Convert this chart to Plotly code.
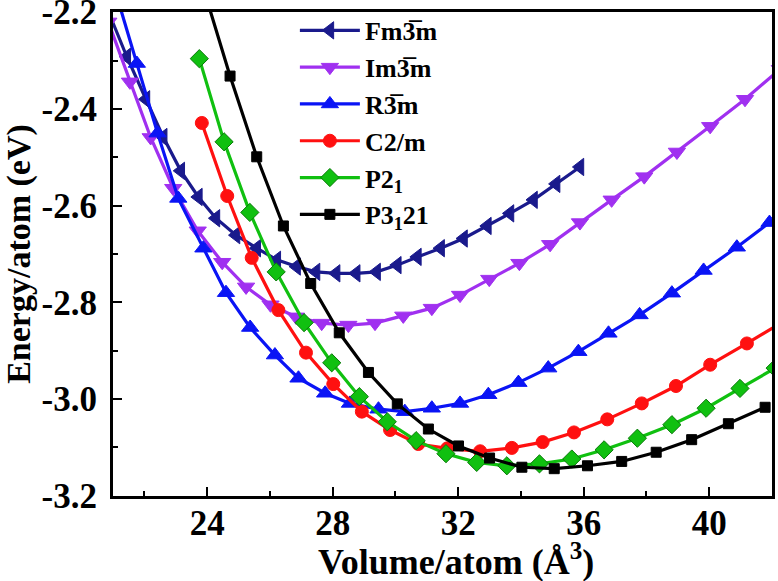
import plotly.graph_objects as go

# ---- data ----
fm_x = [20.83, 21.44, 22.05, 22.60, 23.16, 23.72, 24.28, 24.92, 25.58, 26.22, 26.85, 27.47, 28.11,
        28.75, 29.40, 30.06, 30.70, 31.44, 32.17, 32.93, 33.65, 34.40, 35.12, 35.88]
fm_y = [-2.195, -2.292, -2.380, -2.458, -2.528, -2.582, -2.626, -2.661, -2.688, -2.712, -2.726, -2.737, -2.740,
        -2.740, -2.737, -2.723, -2.706, -2.688, -2.668, -2.642, -2.616, -2.588, -2.555, -2.520]

im_x = [20.85, 21.54, 22.20, 22.92, 23.70, 24.48, 25.24, 26.02, 26.83, 27.65, 28.50, 29.35, 30.25,
        31.16, 32.06, 32.99, 33.95, 34.93, 35.88, 36.89, 37.93, 38.97, 40.03, 41.14, 42.25]
im_y = [-2.220, -2.344, -2.459, -2.564, -2.652, -2.717, -2.768, -2.805, -2.830, -2.843, -2.847, -2.843, -2.828,
        -2.812, -2.785, -2.752, -2.719, -2.680, -2.635, -2.588, -2.540, -2.489, -2.436, -2.380, -2.318]

r3_x = [21.10, 21.76, 22.42, 23.08, 23.88, 24.60, 25.37, 26.16, 26.91, 27.76, 28.55, 29.46, 30.30,
        31.16, 32.06, 32.96, 33.92, 34.87, 35.83, 36.79, 37.78, 38.81, 39.82, 40.88, 41.92]
r3_y = [-2.162, -2.306, -2.450, -2.585, -2.688, -2.780, -2.852, -2.909, -2.957, -2.988, -3.009, -3.021, -3.026,
        -3.019, -3.009, -2.991, -2.966, -2.936, -2.902, -2.864, -2.826, -2.781, -2.734, -2.686, -2.635]

c2_x = [23.83, 24.64, 25.42, 26.27, 27.15, 28.02, 28.93, 29.83, 30.73, 31.65, 32.70, 33.71, 34.69,
        35.69, 36.75, 37.85, 38.94, 40.03, 41.20, 42.35]
c2_y = [-2.429, -2.580, -2.708, -2.816, -2.904, -2.969, -3.026, -3.064, -3.093, -3.102, -3.108, -3.101, -3.089,
        -3.069, -3.042, -3.009, -2.973, -2.929, -2.885, -2.840]

p2_x = [23.75, 24.54, 25.36, 26.20, 27.09, 27.97, 28.85, 29.74, 30.66, 31.61, 32.59, 33.55, 34.59,
        35.62, 36.65, 37.71, 38.81, 39.90, 40.98, 42.10]
p2_y = [-2.296, -2.468, -2.614, -2.737, -2.842, -2.925, -2.995, -3.047, -3.086, -3.113, -3.131, -3.138, -3.134,
        -3.124, -3.105, -3.081, -3.053, -3.019, -2.978, -2.936]

p3_x = [23.88, 24.73, 25.58, 26.43, 27.30, 28.21, 29.14, 30.06, 31.05, 32.01, 33.00, 34.03, 35.06,
        36.12, 37.21, 38.31, 39.44, 40.61, 41.78]
p3_y = [-2.150, -2.332, -2.499, -2.642, -2.761, -2.863, -2.945, -3.010, -3.062, -3.097, -3.122, -3.141, -3.144,
        -3.138, -3.129, -3.110, -3.084, -3.051, -3.017]

names = ["Fm3\u0305m", "Im3\u0305m", "R3\u0305m", "C2/m", "P2<sub>1</sub>", "P3<sub>1</sub>21"]

x_ticks = [24, 28, 32, 36, 40]
x_tick_text = ["24", "28", "32", "36", "40"]
y_ticks = [-3.2, -3.0, -2.8, -2.6, -2.4, -2.2]
y_tick_text = ["-3.2", "-3.0", "-2.8", "-2.6", "-2.4", "-2.2"]
x_title = "Volume/atom (Å<sup>3</sup>)"
y_title = "Energy/atom (eV)"

series = [
    (fm_x, fm_y, names[0], "#1a1a8c", "triangle-left", 15, "#1a1a8c"),
    (im_x, im_y, names[1], "#a030f0", "triangle-down", 15, "#a030f0"),
    (r3_x, r3_y, names[2], "#0a14f5", "triangle-up", 15, "#0a14f5"),
    (c2_x, c2_y, names[3], "#ff1010", "circle", 13, "#ff1010"),
    (p2_x, p2_y, names[4], "#10c010", "diamond", 14, "#0a7a0a"),
    (p3_x, p3_y, names[5], "#000000", "square", 10, "#000000"),
]

fig = go.Figure()
for xs, ys, nm, col, sym, sz, lc in series:
    fig.add_trace(go.Scatter(
        x=xs, y=ys, name=nm, mode="lines+markers",
        line=dict(color=col, width=3.2),
        marker=dict(symbol=sym, size=sz, color=col, line=dict(color=lc, width=1)),
    ))

FONT = "Liberation Serif"
axis_common = dict(
    showline=True, linecolor="black", linewidth=3, mirror=True, automargin=False,
    showgrid=False, zeroline=False, ticks="inside", tickcolor="black",
    tickwidth=2, ticklen=9, ticklabeloverflow="allow",
    tickfont=dict(family=FONT, size=35, color="black", weight="bold"),
)

PAPER_H = 581 - 85  # margin t=0, b=85

fig.update_layout(
    width=778, height=581,
    margin=dict(l=113, r=6, t=0, b=85),
    paper_bgcolor="white", plot_bgcolor="white",
    showlegend=True,
    legend=dict(
        x=0.276, y=0.986, xanchor="left", yanchor="top",
        bgcolor="rgba(0,0,0,0)", borderwidth=0,
        font=dict(family=FONT, size=26, color="black", weight="bold"),
        itemwidth=60, tracegroupgap=0,
    ),
    xaxis=dict(
        range=[21, 42], tickmode="array", tickvals=x_ticks, ticktext=x_tick_text,
        ticklabelstandoff=-6,
        minor=dict(ticks="inside", ticklen=5, tickwidth=2, tickcolor="black", dtick=2, tick0=0),
        **axis_common,
    ),
    yaxis=dict(
        domain=[0, 1 - 12 / PAPER_H],
        range=[-3.2005, -2.1995], tickmode="array", tickvals=y_ticks, ticktext=y_tick_text,
        ticklabelstandoff=6,
        minor=dict(ticks="inside", ticklen=5, tickwidth=2, tickcolor="black", dtick=0.1, tick0=0),
        title=dict(text=y_title, standoff=8,
                   font=dict(family=FONT, size=34, color="black", weight="bold")),
        **axis_common,
    ),
    annotations=[dict(
        text=x_title, xref="paper", yref="paper", x=0.52, y=-63 / PAPER_H,
        xanchor="center", yanchor="middle", showarrow=False,
        font=dict(family=FONT, size=36, color="black", weight="bold"),
    )],
)

fig.write_html("out.html",
               config={"displayModeBar": False},
               post_script="document.body.style.margin='0px';document.body.style.overflow='hidden';")
